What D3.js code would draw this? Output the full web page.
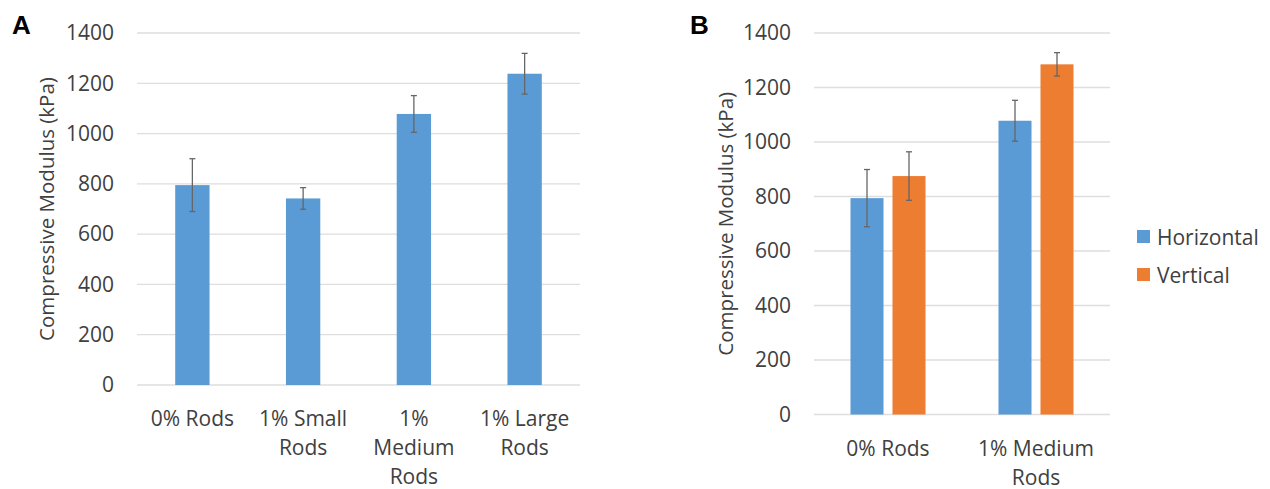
<!DOCTYPE html>
<html>
<head>
<meta charset="utf-8">
<script src="https://cdn.jsdelivr.net/npm/d3@7"></script>
<style>
  body { margin: 0; background: #fff; }
  svg { display: block; font-family: 'Open Sans', sans-serif; }
</style>
</head>
<body>
<div id="chart"></div>
<script>
// Panel A data
const categoriesA = ['0% Rods', '1% Small Rods', '1% Medium Rods', '1% Large Rods']
const valuesA = [795, 742, 1078, 1238]
const errorsA = [105, 43, 73, 81]

// Panel B data
const categoriesB = ['0% Rods', '1% Medium Rods']
const seriesB = ['Horizontal', 'Vertical']
const horizontalB = [794, 1078]
const horizontalErrB = [105, 75]
const verticalB = [875, 1285]
const verticalErrB = [89, 43]

const yTicks = [0, 200, 400, 600, 800, 1000, 1200, 1400]
const yTitle = 'Compressive Modulus (kPa)'

const COLORS = { Horizontal: '#5b9bd5', Vertical: '#ed7d31' }
const TEXT = '#404040'
const FONT_SIZE = 21

const svg = d3.select('#chart').append('svg')
  .attr('width', 1270)
  .attr('height', 489)

function wrapLabel (textSel, maxWidth) {
  textSel.each(function () {
    const text = d3.select(this)
    const words = text.text().split(' ')
    text.text(null)
    const lines = []
    let line = []
    const probe = text.append('tspan')
    words.forEach(w => {
      line.push(w)
      probe.text(line.join(' '))
      if (probe.node().getComputedTextLength() > maxWidth && line.length > 1) {
        line.pop()
        lines.push(line.join(' '))
        line = [w]
      }
    })
    lines.push(line.join(' '))
    probe.remove()
    lines.forEach((l, i) => {
      text.append('tspan')
        .attr('x', 0)
        .attr('dy', i === 0 ? 0 : 29)
        .text(l)
    })
  })
}

function drawPanel (cfg) {
  const g = svg.append('g')

  const x = d3.scaleBand()
    .domain(cfg.categories)
    .range([cfg.left, cfg.right])

  const y = d3.scaleLinear()
    .domain([0, 1400])
    .range([cfg.bottom, cfg.top])

  // gridlines
  g.append('g')
    .selectAll('line')
    .data(yTicks)
    .join('line')
    .attr('x1', cfg.left)
    .attr('x2', cfg.right)
    .attr('y1', d => y(d))
    .attr('y2', d => y(d))
    .attr('stroke', '#dedede')
    .attr('stroke-width', 1.3)

  // y axis labels
  const yAxis = g.append('g')
    .attr('transform', `translate(${cfg.left - 23}, 0)`)
    .call(d3.axisLeft(y).tickValues(yTicks).tickFormat(d3.format('d')).tickSize(0).tickPadding(0))
  yAxis.select('.domain').remove()
  yAxis.selectAll('text')
    .attr('fill', TEXT)
    .style('font-size', FONT_SIZE + 'px')
    .style('font-family', "'Open Sans', sans-serif")

  // y title
  g.append('text')
    .attr('transform', `translate(${cfg.titleX}, ${(cfg.top + cfg.bottom) / 2}) rotate(-90)`)
    .attr('text-anchor', 'middle')
    .attr('dominant-baseline', 'central')
    .attr('fill', TEXT)
    .style('font-size', '20.5px')
    .text(yTitle)

  // x axis labels
  const xAxis = g.append('g')
    .attr('transform', `translate(0, ${cfg.bottom + 33})`)
  xAxis.selectAll('text')
    .data(cfg.categories)
    .join('text')
    .attr('transform', d => `translate(${x(d) + x.bandwidth() / 2}, 0)`)
    .attr('text-anchor', 'middle')
    .attr('dominant-baseline', 'central')
    .attr('fill', TEXT)
    .style('font-size', FONT_SIZE + 'px')
    .text(d => d)
    .call(wrapLabel, cfg.wrapWidth)

  // panel letter
  svg.append('text')
    .attr('x', cfg.letterX)
    .attr('y', 34)
    .attr('font-family', 'Liberation Sans, Arial, sans-serif')
    .attr('font-weight', 'bold')
    .attr('font-size', '26px')
    .attr('fill', '#000')
    .text(cfg.letter)

  return { g, x, y }
}

function drawErrorBars (g, data, cx, y) {
  const eb = g.append('g')
    .attr('stroke', '#666')
    .attr('stroke-width', 1.3)
  eb.selectAll('line.v')
    .data(data)
    .join('line')
    .attr('class', 'v')
    .attr('x1', d => cx(d))
    .attr('x2', d => cx(d))
    .attr('y1', d => y(d.value + d.err))
    .attr('y2', d => y(d.value - d.err))
  ;['top', 'bot'].forEach(k => {
    eb.selectAll('line.' + k)
      .data(data)
      .join('line')
      .attr('class', k)
      .attr('x1', d => cx(d) - 3)
      .attr('x2', d => cx(d) + 3)
      .attr('y1', d => y(k === 'top' ? d.value + d.err : d.value - d.err))
      .attr('y2', d => y(k === 'top' ? d.value + d.err : d.value - d.err))
  })
}

// ---- Panel A
const A = drawPanel({
  categories: categoriesA,
  left: 137,
  right: 580,
  top: 33,
  bottom: 385,
  titleX: 46,
  wrapWidth: 100,
  letter: 'A',
  letterX: 12
})
const dataA = categoriesA.map((c, i) => ({ cat: c, value: valuesA[i], err: errorsA[i] }))
const barW = A.x.bandwidth() * 0.31
A.g.append('g')
  .selectAll('rect')
  .data(dataA)
  .join('rect')
  .attr('x', d => A.x(d.cat) + (A.x.bandwidth() - barW) / 2)
  .attr('width', barW)
  .attr('y', d => A.y(d.value))
  .attr('height', d => A.y(0) - A.y(d.value))
  .attr('fill', COLORS.Horizontal)
drawErrorBars(A.g, dataA, d => A.x(d.cat) + A.x.bandwidth() / 2, A.y)

// ---- Panel B
const B = drawPanel({
  categories: categoriesB,
  left: 814,
  right: 1110,
  top: 33,
  bottom: 414.5,
  titleX: 725,
  wrapWidth: 140,
  letter: 'B',
  letterX: 690
})
const dataB = []
categoriesB.forEach((c, i) => {
  dataB.push({ cat: c, series: 'Horizontal', value: horizontalB[i], err: horizontalErrB[i] })
  dataB.push({ cat: c, series: 'Vertical', value: verticalB[i], err: verticalErrB[i] })
})
const xSub = d3.scaleBand()
  .domain(seriesB)
  .range([0, 75])
  .paddingInner(0.214)
const groupOffset = (B.x.bandwidth() - 75) / 2
B.g.append('g')
  .selectAll('rect')
  .data(dataB)
  .join('rect')
  .attr('x', d => B.x(d.cat) + groupOffset + xSub(d.series))
  .attr('width', xSub.bandwidth())
  .attr('y', d => B.y(d.value))
  .attr('height', d => B.y(0) - B.y(d.value))
  .attr('fill', d => COLORS[d.series])
drawErrorBars(B.g, dataB, d => B.x(d.cat) + groupOffset + xSub(d.series) + xSub.bandwidth() / 2, B.y)

// legend
const legend = svg.append('g')
  .attr('transform', 'translate(1137, 230)')
const item = legend.selectAll('g')
  .data(seriesB)
  .join('g')
  .attr('transform', (d, i) => `translate(0, ${i * 38})`)
item.append('rect')
  .attr('width', 13)
  .attr('height', 13)
  .attr('fill', d => COLORS[d])
item.append('text')
  .attr('x', 20)
  .attr('y', 7)
  .attr('dominant-baseline', 'central')
  .attr('fill', TEXT)
  .style('font-size', FONT_SIZE + 'px')
  .text(d => d)
</script>
</body>
</html>
